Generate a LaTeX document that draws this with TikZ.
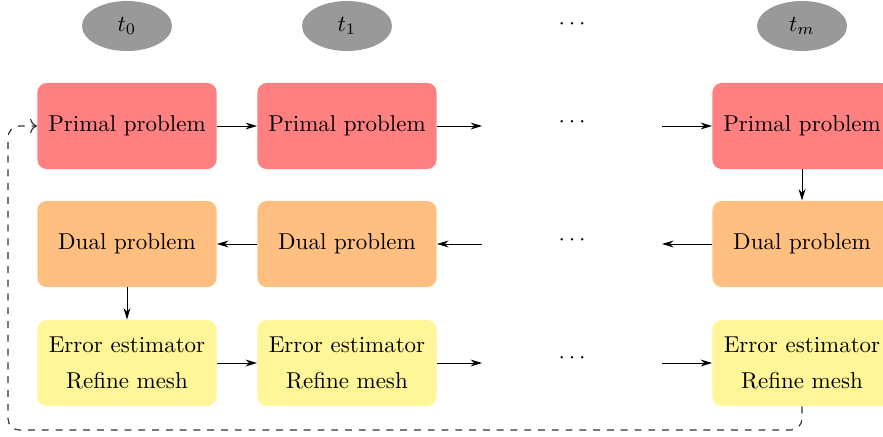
\documentclass[tikz,border=0pt]{standalone}
\usepackage{tikz}
\usetikzlibrary{arrows.meta,shapes.geometric}
\definecolor{primal}{HTML}{FF8080}
\definecolor{dual}{HTML}{FFBF80}
\definecolor{errest}{HTML}{FFF599}
\definecolor{tgray}{HTML}{999999}
\tikzset{
 box/.style={rounded corners=4pt,minimum width=2.74cm,minimum height=1.316cm,align=center},
 primalbox/.style={box,fill=primal},
 dualbox/.style={box,fill=dual},
 errbox/.style={box,fill=errest},
 timept/.style={ellipse,fill=tgray,minimum width=1.377cm,minimum height=0.765cm,inner sep=0pt}}

\begin{document}
\begin{tikzpicture}[>={Stealth[length=5pt,width=3pt]}]
 \useasboundingbox (0,0) rectangle (13.51,-6.686);
 % time levels
 \node[timept] (t0) at (1.943,-0.398) {$t_0$};
 \node[timept] (t1) at (5.309,-0.398) {$t_1$};
 \node (tdots) at (8.752,-0.367) {$\cdots$};
 \node[timept] (tm) at (12.271,-0.398) {$t_m$};
 % rows
 \node[primalbox] (p1) at (1.943,-1.928) {Primal problem};
 \node[primalbox] (p2) at (5.309,-1.928) {Primal problem};
 \node (pdots) at (8.752,-1.866) {$\cdots$};
 \node[primalbox] (p3) at (12.271,-1.928) {Primal problem};
 \node[dualbox] (d1) at (1.943,-3.733) {Dual problem};
 \node[dualbox] (d2) at (5.309,-3.733) {Dual problem};
 \node (ddots) at (8.752,-3.672) {$\cdots$};
 \node[dualbox] (d3) at (12.271,-3.733) {Dual problem};
 \node[errbox] (e1) at (1.943,-5.554) {Error estimator\\[4pt]Refine mesh};
 \node[errbox] (e2) at (5.309,-5.554) {Error estimator\\[4pt]Refine mesh};
 \node (edots) at (8.752,-5.478) {$\cdots$};
 \node[errbox] (e3) at (12.271,-5.554) {Error estimator\\[4pt]Refine mesh};
 \coordinate (pa) at (7.375,-1.928);
 \coordinate (pb) at (10.129,-1.928);
 \coordinate (da) at (7.375,-3.733);
 \coordinate (db) at (10.129,-3.733);
 \coordinate (ea) at (7.375,-5.554);
 \coordinate (eb) at (10.129,-5.554);
 \coordinate (loop) at (0.122,-6.58);
 % arrows
 \draw[->] (p1.east) -- (p2.west);
 \draw[->] (p2.east) -- (pa);
 \draw[->] (pb) -- (p3.west);
 \draw[->] (p3.south) -- (d3.north);
 \draw[->] (d3.west) -- (db);
 \draw[->] (da) -- (d2.east);
 \draw[->] (d2.west) -- (d1.east);
 \draw[->] (d1.south) -- (e1.north);
 \draw[->] (e1.east) -- (e2.west);
 \draw[->] (e2.east) -- (ea);
 \draw[->] (eb) -- (e3.west);
 \draw[dashed,black!80,line width=0.5pt,rounded corners=5pt,-{To[length=3pt]}] (e3.south) |- (loop) |- (p1.west);
\end{tikzpicture}
\end{document}
